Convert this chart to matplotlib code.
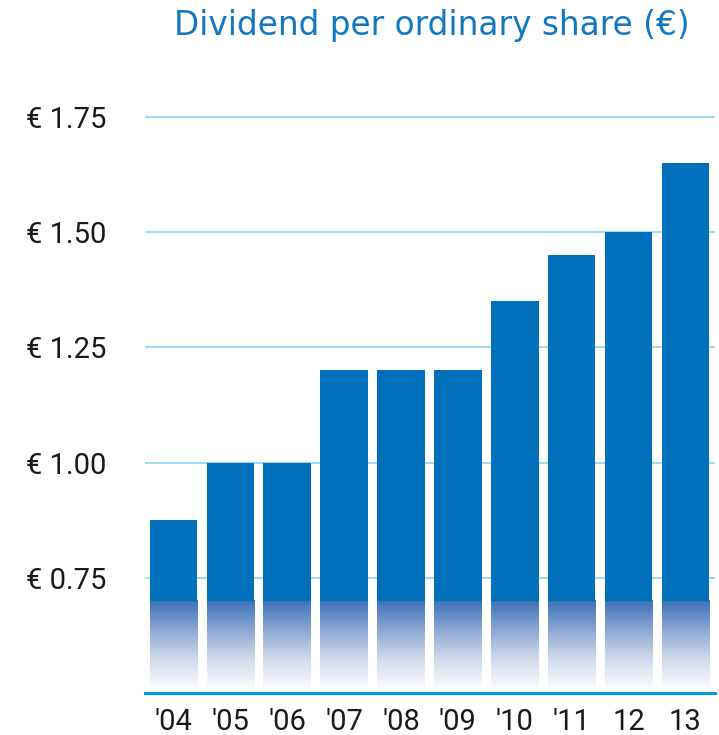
import matplotlib
matplotlib.use("Agg")
import matplotlib.pyplot as plt
import numpy as np
from matplotlib.colors import LinearSegmentedColormap

years = ["'04", "'05", "'06", "'07", "'08", "'09", "'10", "'11", "12", "13"]
dividends = [0.875, 1.00, 1.00, 1.20, 1.20, 1.20, 1.35, 1.45, 1.50, 1.65]
yticks = [0.75, 1.00, 1.25, 1.50, 1.75]
ytick_labels = ["€ 0.75", "€ 1.00", "€ 1.25", "€ 1.50", "€ 1.75"]
title = "Dividend per ordinary share (€)"

BAR = "#0070BA"
GRID = "#8FD3F2"
BASE = "#009ADA"
fade_top = 0.70
ymin, ymax = 0.50, 1.80

fig = plt.figure(figsize=(7.19, 7.35), dpi=100)
ax = fig.add_axes([145/719, 1-693/735, (715-145)/719, (693-94)/735])

x = np.arange(len(years))
w = 0.835
ax.bar(x, [v - fade_top for v in dividends], bottom=fade_top, width=w, color=BAR, zorder=3, linewidth=0)

cmap = LinearSegmentedColormap.from_list("fade", ["#FAFBFD", "#D0D9EA", "#8BA6D2", "#3A70B8"])
grad = np.linspace(0, 1, 256).reshape(-1, 1)
for xi in x:
    ax.imshow(grad, extent=(xi - w/2, xi + w/2, ymin + 0.01, fade_top), origin="lower",
              cmap=cmap, aspect="auto", zorder=2, interpolation="bilinear")

ax.set_xlim(-0.5, 9.52)
ax.set_ylim(ymin, ymax)
ax.set_yticks(yticks)
ax.set_yticklabels(ytick_labels, family="Roboto", fontsize=21, color="#1a1a1a")
ax.set_xticks(x)
ax.set_xticklabels(years, family="Roboto", fontsize=21, color="#1a1a1a")
ax.tick_params(axis="y", length=0, pad=28)
ax.tick_params(axis="x", length=0, pad=11)
for s in ["top", "right", "left"]:
    ax.spines[s].set_visible(False)
ax.spines["bottom"].set_color(BASE)
ax.spines["bottom"].set_linewidth(2.2)
ax.spines["bottom"].set_zorder(5)
ax.yaxis.grid(True, color=GRID, linewidth=1.2, zorder=1)
ax.set_axisbelow(True)

fig.text(690/719, 1-25/735, title, ha="right", va="center", fontsize=23.6,
         color="#1478C0", family="DejaVu Sans")

fig.savefig("out.png", dpi=100, facecolor="white")
